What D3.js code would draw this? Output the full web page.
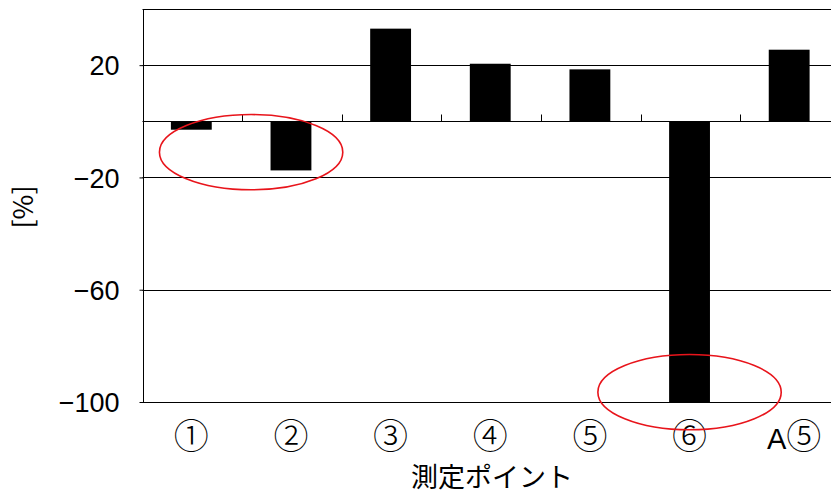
<!DOCTYPE html>
<html>
<head>
<meta charset="utf-8">
<script src="https://cdn.jsdelivr.net/npm/d3@7"></script>
<style>
  html, body { margin: 0; padding: 0; background: #fff; }
  svg { display: block; }
  text { font-family: "Liberation Sans", Arial, sans-serif; fill: #000; }
  .jp { font-family: "Noto Sans CJK JP", sans-serif; }
</style>
</head>
<body>
<svg id="chart" width="831" height="494"></svg>
<script>
// Measurement points and their deviation [%]
const categories = ["①", "②", "③", "④", "⑤", "⑥", "A⑤"];
const values = [-3, -17.5, 33, 20.5, 18.5, -100, 25.5];
const yTicks = [20, -20, -60, -100];
const yDomain = [-100, 40];
const xTitle = "測定ポイント";
const yTitle = "[%]";
// Highlight rings: "at" is counted in category steps from the first point's centre
const highlights = [
  { at: 0.59, value: -11 },
  { at: 4.99, value: -96.5 }
];

const svg = d3.select("#chart");
const plotLeft = 142.5, plotTop = 9, plotBottom = 402, plotRight = 840;

const x = d3.scaleBand().domain(categories).range([plotLeft, plotRight]).paddingInner(0).paddingOuter(0);
const y = d3.scaleLinear().domain(yDomain).range([plotBottom, plotTop]);
const step = d3.scaleLinear().domain([0, 1]).range([x(categories[0]) + x.bandwidth() / 2, x(categories[1]) + x.bandwidth() / 2]);
const barW = x.bandwidth() * 0.41;

// Grid lines at labelled values, plus the top border
svg.append("g")
  .selectAll("line")
  .data(yTicks.concat([yDomain[1]]))
  .join("line")
  .attr("x1", plotLeft).attr("x2", plotRight)
  .attr("y1", d => Math.round(y(d)) + 0.5).attr("y2", d => Math.round(y(d)) + 0.5)
  .attr("stroke", "#000").attr("stroke-width", 1);

// Bars
svg.append("g")
  .selectAll("rect")
  .data(values)
  .join("rect")
  .attr("x", (d, i) => x(categories[i]) + x.bandwidth() / 2 - barW / 2 - 1)
  .attr("y", d => y(Math.max(0, d)))
  .attr("width", barW)
  .attr("height", d => Math.abs(y(d) - y(0)))
  .attr("fill", "#000");

// Zero line with category separators
const y0 = Math.round(y(0)) + 0.5;
svg.append("line")
  .attr("x1", plotLeft).attr("x2", plotRight).attr("y1", y0).attr("y2", y0)
  .attr("stroke", "#000").attr("stroke-width", 1);
svg.append("g")
  .selectAll("line")
  .data(categories.slice(1))
  .join("line")
  .attr("x1", d => Math.round(x(d)) + 0.5).attr("x2", d => Math.round(x(d)) + 0.5)
  .attr("y1", y0 - 7).attr("y2", y0)
  .attr("stroke", "#000").attr("stroke-width", 1);

// Y axis
const yAxis = d3.axisLeft(y).tickValues(yTicks).tickSize(4).tickPadding(20)
  .tickFormat(d => d < 0 ? "\u2212" + Math.abs(d) : String(d));
const gy = svg.append("g").attr("transform", `translate(${Math.round(plotLeft) + 0.5},0)`).call(yAxis);
gy.select(".domain").attr("stroke", "#000").attr("d", `M0,${plotTop}V${plotBottom}`);
gy.selectAll(".tick line").attr("stroke", "#000");
gy.selectAll(".tick text")
  .attr("font-size", 27)
  .attr("font-family", "'Liberation Sans', Arial, sans-serif")
  .attr("dy", "0.36em");

// Category labels: enclosed digits are set larger so their rings read at full height
const isCircled = ch => /[\u2460-\u2473]/.test(ch);
const labels = svg.append("g")
  .selectAll("text")
  .data(categories)
  .join("text")
  .attr("x", d => x(d) + x.bandwidth() / 2 + (d.length > 1 ? 4 : -1))
  .attr("y", 449)
  .attr("text-anchor", "middle");
labels.each(function (d) {
  const t = d3.select(this);
  Array.from(d).forEach(ch => {
    t.append("tspan")
      .attr("font-family", isCircled(ch) ? "'Noto Sans CJK JP', sans-serif" : "'Liberation Sans', Arial, sans-serif")
      .attr("font-weight", isCircled(ch) ? 300 : 400)
      .attr("font-size", isCircled(ch) ? 35 : 29)
      .text(ch);
  });
});

// Axis titles
svg.append("text")
  .attr("class", "jp")
  .attr("x", 492).attr("y", 487)
  .attr("text-anchor", "middle")
  .attr("font-size", 27)
  .text(xTitle);

svg.append("text")
  .attr("class", "jp")
  .attr("transform", "translate(33,207) rotate(-90)")
  .attr("text-anchor", "middle")
  .attr("font-size", 27)
  .text(yTitle);

// Highlight rings
svg.append("g")
  .selectAll("ellipse")
  .data(highlights)
  .join("ellipse")
  .attr("cx", d => step(d.at))
  .attr("cy", d => y(d.value))
  .attr("rx", x.bandwidth() * 0.92)
  .attr("ry", y(0) - y(13.4))
  .attr("fill", "none")
  .attr("stroke", "#e8141b")
  .attr("stroke-width", 1.6);
</script>
</body>
</html>
